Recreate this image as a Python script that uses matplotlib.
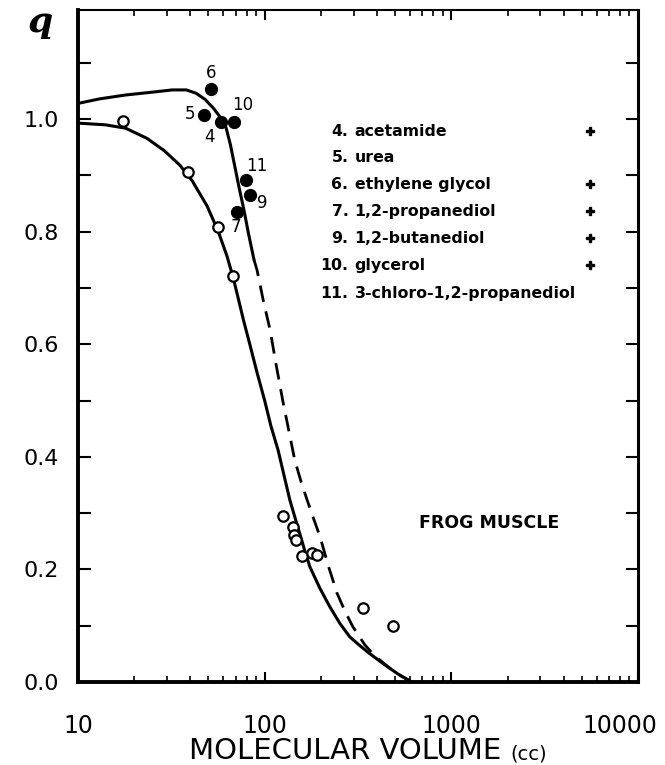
import matplotlib
matplotlib.use('Agg')
import matplotlib.pyplot as plt
from matplotlib.ticker import FixedLocator, NullFormatter, FuncFormatter

# open circles
open_vol = [17.4, 38.8, 56.2, 67.6, 125, 142, 144, 148, 159, 179, 190, 336, 487]
open_q = [0.996, 0.906, 0.808, 0.721, 0.295, 0.275, 0.262, 0.253, 0.224, 0.229, 0.226, 0.131, 0.0995]

# filled circles (numbered compounds)
num_ids = ['4', '5', '6', '7', '9', '10', '11']
num_vol = [58.3, 47.3, 51.5, 71.1, 83.4, 68.5, 79.4]
num_q = [0.995, 1.007, 1.053, 0.835, 0.865, 0.995, 0.892]

# upper curve, solid part then dashed part
upper_vol = [10, 13, 18, 25, 32, 38, 43, 48, 53, 58, 62.1, 65.5, 69.3, 73, 77.5, 82, 87.7]
upper_q = [1.028, 1.036, 1.043, 1.048, 1.052, 1.052, 1.046, 1.035, 1.020, 1.003, 0.985, 0.955,
           0.915, 0.878, 0.838, 0.796, 0.750]
dash_vol = [87.7, 91, 98, 107, 115, 125, 135, 145, 157, 169, 183, 198, 220, 244, 270, 297, 344,
            390, 440, 500, 564, 600]
dash_q = [0.750, 0.732, 0.68, 0.625, 0.565, 0.50, 0.445, 0.394, 0.355, 0.323, 0.290, 0.258,
          0.205, 0.158, 0.125, 0.098, 0.066, 0.046, 0.032, 0.017, 0.007, 0.002]

# lower curve
lower_vol = [10, 14, 18, 23.4, 29, 35.2, 41, 49.1, 56.2, 62.8, 67.6, 71.9, 77, 83.4, 91, 100,
             108, 118, 127, 136.5, 146, 156, 165, 175, 198, 224, 253, 286, 320, 357, 410, 469, 530, 600]
lower_q = [0.993, 0.990, 0.984, 0.966, 0.944, 0.918, 0.890, 0.846, 0.802, 0.757, 0.720, 0.684,
           0.643, 0.599, 0.550, 0.500, 0.455, 0.412, 0.367, 0.323, 0.290, 0.258, 0.230, 0.204,
           0.166, 0.133, 0.104, 0.080, 0.066, 0.053, 0.038, 0.024, 0.012, 0.002]

legend_names = ['4. acetamide', '5. urea', '6. ethylene glycol', '7. 1,2-propanediol',
                '9. 1,2-butanediol', '10. glycerol', '11. 3-chloro-1,2-propanediol']
legend_plus = [True, False, True, True, True, True, False]

x_ticks = [10, 100, 1000, 10000]

# label offsets (points) for the numbered points
label_off = {'4': (-8, -11), '5': (-10, 1), '6': (0, 12), '7': (-1, -11),
             '9': (9, -6), '10': (6, 12), '11': (8, 10)}

fig = plt.figure(figsize=(6.65, 7.65), dpi=100)
ax = fig.add_axes([78 / 665, 83 / 765, 560 / 665, 672 / 765])

ax.plot(upper_vol, upper_q, color='black', lw=2.2, solid_capstyle='round')
ax.plot(dash_vol, dash_q, color='black', lw=2.0, dashes=(6, 3.5))
ax.plot(lower_vol, lower_q, color='black', lw=2.2)

ax.plot(open_vol, open_q, 'o', mfc='white', mec='black', mew=1.6, ms=7.5, zorder=3)
ax.plot(num_vol, num_q, 'o', color='black', ms=8.5, zorder=3)

for name, v, q in zip(num_ids, num_vol, num_q):
    ax.annotate(name, (v, q), xytext=label_off[name], textcoords='offset points',
                ha='center', va='center', fontsize=12)

ax.set_xscale('log')
ax.set_xlim(10, 10000)
ax.set_ylim(0, 1.194)

ax.set_yticks([0.0, 0.2, 0.4, 0.6, 0.8, 1.0])
ax.yaxis.set_minor_locator(FixedLocator([0.1, 0.3, 0.5, 0.7, 0.9, 1.1]))
ax.yaxis.set_minor_formatter(NullFormatter())
ax.yaxis.set_major_formatter(FuncFormatter(lambda v, p: '%.1f' % v))

ax.set_xticks(x_ticks)
ax.set_xticklabels([str(t) if t < 10000 else '' for t in x_ticks])
# the last label sits a bit inside the frame, as in the original
ax.annotate(str(x_ticks[-1]), (x_ticks[-1], 0), xycoords=('data', 'axes fraction'),
            xytext=(-13, -23), textcoords='offset points', ha='center', va='top',
            fontsize=17)

ax.tick_params(axis='y', which='both', direction='in', length=9, width=1.5,
               left=True, right=True, labelsize=16, pad=14)
ax.tick_params(axis='x', which='major', direction='in', length=7, width=1.5,
               top=True, bottom=True, labelsize=17, pad=23)
ax.tick_params(axis='x', which='minor', direction='in', length=4, width=1.2,
               top=True, bottom=True)

for side, lw in [('left', 2.8), ('bottom', 2.8), ('right', 2.2), ('top', 1.5)]:
    ax.spines[side].set_linewidth(lw)

fig.text(345 / 665, 6 / 765, 'MOLECULAR VOLUME', fontsize=21, ha='center', va='baseline')
fig.text(510 / 665, 6 / 765, '(cc)', fontsize=14, ha='left', va='baseline')

fig.text(40 / 665, 1 - 22 / 765, 'q', fontsize=26, fontstyle='italic',
         fontweight='bold', family='serif', ha='center', va='center')

# legend text block
row_y = [131, 157, 184, 211, 238, 265, 293]
for name, has_plus, py in zip(legend_names, legend_plus, row_y):
    yy = (682 - py) / 563
    num, rest = name.split(' ', 1)
    ax.text(0.483, yy, num, transform=ax.get_yaxis_transform(), ha='right',
            va='center', fontsize=11.3, fontweight='bold')
    ax.text(0.494, yy, rest, transform=ax.get_yaxis_transform(), ha='left',
            va='center', fontsize=11.3, fontweight='bold')
    if has_plus:
        ax.plot([0.914], [yy], 'P', color='black', ms=6,
                transform=ax.get_yaxis_transform())

ax.text(0.735, (682 - 523) / 563, 'FROG MUSCLE', transform=ax.get_yaxis_transform(),
        ha='center', va='center', fontsize=12.5, fontweight='bold')

fig.savefig('out.png', dpi=100)
